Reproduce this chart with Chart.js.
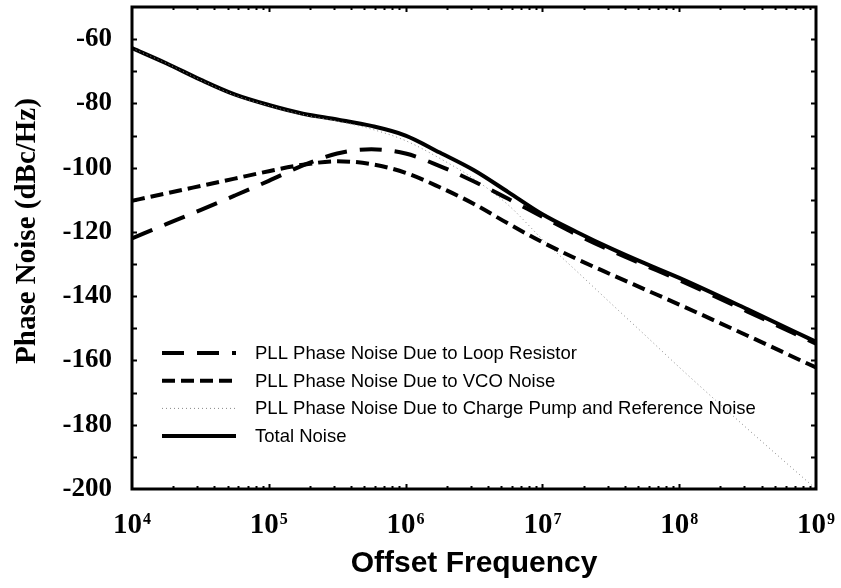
<!DOCTYPE html>
<html>
<head>
<meta charset="utf-8">
<script src="https://cdn.jsdelivr.net/npm/chart.js@4.4.0/dist/chart.umd.min.js"></script>
<style>
  html, body { margin: 0; padding: 0; background: #fff; }
  #wrap { width: 841px; height: 588px; }
</style>
</head>
<body>
<div id="wrap"><canvas id="pn" width="841" height="588"></canvas></div>
<script>
// -------------------------
// Data
// -------------------------
const freqs = [1e4, 1.778e4, 3.162e4, 5.623e4, 1e5, 1.778e5, 3.162e5, 5.623e5, 1e6, 1.778e6,
               3.162e6, 5.623e6, 1e7, 1.778e7, 3.162e7, 5.623e7, 1e8, 3.162e8, 1e9];
const loopNoise  = [-122.0, -117.6, -113.2, -108.7, -104.1, -99.3, -95.6, -94.3, -95.6, -99.5,
                    -104.3, -109.7, -115.3, -120.8, -125.8, -130.4, -135.0, -144.8, -154.8];
const vcoNoise   = [-110.3, -108.0, -105.7, -103.4, -101.1, -99.1, -98.0, -98.9, -101.6, -106.1,
                    -111.3, -117.4, -123.2, -128.4, -133.2, -137.9, -142.6, -152.3, -162.2];
const cpRefNoise = [-62.8, -67.5, -72.7, -77.4, -80.7, -83.5, -85.5, -88.0, -91.6, -97.1,
                    -103.5, -111.6, -122.3, -132.2, -142.2, -152.1, -162.1, -181.3, -200.0];
const totalNoise = [-62.8, -67.5, -72.6, -77.2, -80.5, -83.2, -85.0, -87.0, -90.0, -95.3,
                    -100.8, -107.6, -114.5, -120.0, -125.1, -129.8, -134.3, -144.1, -154.2];

const seriesNames = [
  "PLL Phase Noise Due to Loop Resistor",
  "PLL Phase Noise Due to VCO Noise",
  "PLL Phase Noise Due to Charge Pump and Reference Noise",
  "Total Noise"
];
const xTickExps = [4, 5, 6, 7, 8, 9];
const yTickLabels = [-60, -80, -100, -120, -140, -160, -180, -200];
const xTitle = "Offset Frequency";
const yTitle = "Phase Noise (dBc/Hz)";

const pts = arr => freqs.map((f, i) => ({ x: f, y: arr[i] }));

// -------------------------
// Plugins
// -------------------------
const framePlugin = {
  id: 'frame',
  afterDatasetsDraw(chart) {
    const { ctx, chartArea: a, scales: { x, y } } = chart;
    ctx.save();
    ctx.strokeStyle = '#000';
    ctx.lineWidth = 3;
    ctx.strokeRect(a.left, a.top, a.right - a.left, a.bottom - a.top);
    ctx.lineWidth = 2;
    ctx.beginPath();
    // y ticks every 10 dB, inward on left and right
    for (let v = -190; v < -50; v += 10) {
      const py = Math.round(y.getPixelForValue(v)) + 0.5;
      ctx.moveTo(a.left, py); ctx.lineTo(a.left + 5, py);
      ctx.moveTo(a.right, py); ctx.lineTo(a.right - 5, py);
    }
    // x log ticks, inward on bottom and top
    for (let e = 4; e < 9; e++) {
      for (let m = 1; m < 10; m++) {
        if (m === 1 && e === 4) continue;
        const px = Math.round(x.getPixelForValue(m * Math.pow(10, e))) + 0.5;
        const len = m === 1 ? 5 : 3;
        ctx.moveTo(px, a.bottom); ctx.lineTo(px, a.bottom - len);
        ctx.moveTo(px, a.top); ctx.lineTo(px, a.top + len);
      }
    }
    ctx.stroke();
    ctx.restore();
  }
};

const labelsPlugin = {
  id: 'axisText',
  afterDraw(chart) {
    const { ctx, chartArea: a, scales: { x } } = chart;
    ctx.save();
    ctx.fillStyle = '#000';
    // x tick labels 10^n
    xTickExps.forEach(e => {
      const px = x.getPixelForValue(Math.pow(10, e));
      ctx.font = 'bold 29px "Liberation Serif", "Times New Roman", serif';
      const w1 = ctx.measureText('10').width;
      ctx.font = 'bold 16px "Liberation Serif", "Times New Roman", serif';
      const w2 = ctx.measureText(String(e)).width;
      const start = px - (w1 + w2 + 1) / 2;
      ctx.textAlign = 'left';
      ctx.textBaseline = 'alphabetic';
      ctx.font = 'bold 29px "Liberation Serif", "Times New Roman", serif';
      ctx.fillText('10', start, 533);
      ctx.font = 'bold 16px "Liberation Serif", "Times New Roman", serif';
      ctx.fillText(String(e), start + w1 + 1, 524);
    });
    // x title
    ctx.font = 'bold 30px "Liberation Sans", Arial, sans-serif';
    ctx.textAlign = 'center';
    ctx.fillText(xTitle, (a.left + a.right) / 2, 572);
    // y title
    ctx.translate(35, 231);
    ctx.rotate(-Math.PI / 2);
    ctx.font = 'bold 29px "Liberation Serif", "Times New Roman", serif';
    ctx.fillText(yTitle, 0, 0);
    ctx.restore();
  }
};

const legendPlugin = {
  id: 'innerLegend',
  afterDraw(chart) {
    const { ctx } = chart;
    ctx.save();
    chart.data.datasets.forEach((ds, i) => {
      const cy = 353 + i * 27.7;
      ctx.beginPath();
      ctx.strokeStyle = ds.borderColor;
      ctx.lineWidth = ds.borderWidth;
      ctx.setLineDash(ds.borderDash || []);
      ctx.moveTo(162, cy); ctx.lineTo(236, cy);
      ctx.stroke();
      ctx.setLineDash([]);
      ctx.fillStyle = '#000';
      ctx.font = '18.5px "Liberation Sans", Arial, sans-serif';
      ctx.textAlign = 'left';
      ctx.textBaseline = 'middle';
      ctx.fillText(ds.label, 255, cy + 1);
    });
    ctx.restore();
  }
};

// -------------------------
// Chart
// -------------------------
const ctx = document.getElementById('pn').getContext('2d');
new Chart(ctx, {
  type: 'line',
  data: {
    datasets: [
      { label: seriesNames[0], data: pts(loopNoise), borderColor: '#000', borderWidth: 4, borderDash: [22, 13], pointRadius: 0, cubicInterpolationMode: 'monotone', fill: false },
      { label: seriesNames[1], data: pts(vcoNoise), borderColor: '#000', borderWidth: 4, borderDash: [13, 6], pointRadius: 0, cubicInterpolationMode: 'monotone', fill: false },
      { label: seriesNames[2], data: pts(cpRefNoise), borderColor: '#888', borderWidth: 1, borderDash: [1, 3], pointRadius: 0, cubicInterpolationMode: 'monotone', fill: false },
      { label: seriesNames[3], data: pts(totalNoise), borderColor: '#000', borderWidth: 4, pointRadius: 0, cubicInterpolationMode: 'monotone', fill: false }
    ]
  },
  options: {
    responsive: false,
    animation: false,
    devicePixelRatio: 1,
    layout: { padding: { top: 7, right: 25, left: 0, bottom: 0 } },
    plugins: { legend: { display: false }, tooltip: { enabled: false } },
    scales: {
      x: {
        type: 'logarithmic', min: 1e4, max: 1e9,
        afterFit: s => { s.height = 99; s.paddingLeft = 0; s.paddingRight = 0; },
        ticks: { display: false },
        grid: { display: false, drawTicks: false },
        border: { display: false }
      },
      y: {
        type: 'linear', min: -200, max: -50,
        afterFit: s => { s.width = 132; s.paddingTop = 0; s.paddingBottom = 0; },
        ticks: {
          stepSize: 10,
          padding: 20,
          color: '#000',
          font: { family: '"Liberation Serif", "Times New Roman", serif', size: 27, weight: 'bold' },
          callback: v => (yTickLabels.includes(v) ? String(v) : '')
        },
        grid: { display: false, drawTicks: false },
        border: { display: false }
      }
    }
  },
  plugins: [framePlugin, labelsPlugin, legendPlugin]
});
</script>
</body>
</html>
